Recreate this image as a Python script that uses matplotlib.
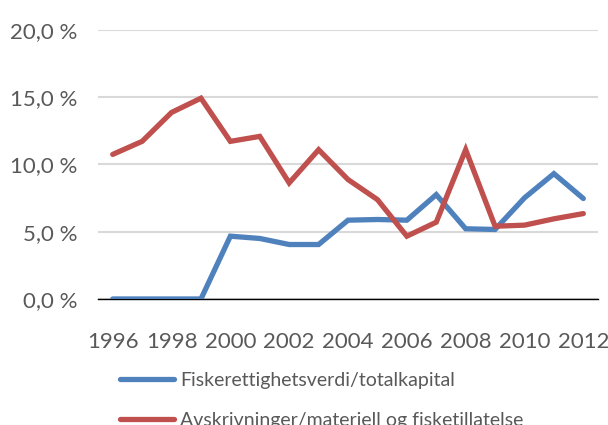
import matplotlib.pyplot as plt
from matplotlib.ticker import FuncFormatter

plt.rcParams["font.family"] = ["Lato", "DejaVu Sans"]

years = list(range(1996, 2013))
fiskerett = [0.0, 0.0, 0.0, 0.0, 4.67, 4.50, 4.05, 4.05, 5.86, 5.91, 5.86,
             7.76, 5.22, 5.17, 7.52, 9.32, 7.47]
avskriv = [10.75, 11.72, 13.87, 14.93, 11.72, 12.09, 8.63, 11.10, 8.88, 7.39,
           4.67, 5.71, 11.10, 5.41, 5.49, 5.96, 6.35]
labels = ["Fiskerettighetsverdi/totalkapital",
          "Avskrivninger/materiell og fisketillatelse"]

fig = plt.figure(figsize=(6.08, 4.25), dpi=100)
ax = fig.add_axes([0.1612, 0.2965, 0.8224, 0.6329])

ax.plot(years, fiskerett, color="#4F81BD", lw=3.8, solid_capstyle="round",
        solid_joinstyle="miter", label=labels[0], zorder=3)
ax.plot(years, avskriv, color="#C0504D", lw=3.8, solid_capstyle="round",
        solid_joinstyle="miter", label=labels[1], zorder=3)

ax.set_xlim(1995.5, 2012.5)
ax.set_ylim(0, 20)
ax.set_yticks([0, 5, 10, 15, 20])
ax.yaxis.set_major_formatter(FuncFormatter(lambda v, p: f"{v:.1f}".replace(".", ",") + " %"))
ax.set_xticks(years[::2])

ax.grid(True, axis="y", color="#D9D9D9", lw=1.5)
ax.set_axisbelow(True)
for s in ["top", "right", "left"]:
    ax.spines[s].set_visible(False)
ax.spines["bottom"].set_color("black")
ax.spines["bottom"].set_linewidth(1.0)
ax.spines["bottom"].set_zorder(2)

ax.tick_params(axis="both", length=0, labelsize=16, labelcolor="#595959")
ax.tick_params(axis="y", pad=15)
ax.tick_params(axis="x", pad=24)

fig.legend(loc="upper left", bbox_to_anchor=(0.197, 0.124), frameon=False,
           fontsize=14, labelcolor="#595959", handlelength=2.8,
           handletextpad=0.3, labelspacing=1.15, borderpad=0, borderaxespad=0)

fig.savefig("out.png", dpi=100)
